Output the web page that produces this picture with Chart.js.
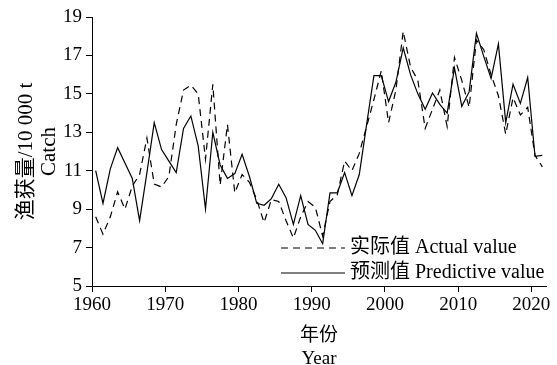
<!DOCTYPE html>
<html>
<head>
<meta charset="utf-8">
<script src="https://cdn.jsdelivr.net/npm/chart.js@4/dist/chart.umd.min.js"></script>
<style>
  html, body { margin: 0; padding: 0; background: #fff; }
  #wrap { width: 557px; height: 365px; position: relative; }
</style>
</head>
<body>
<div id="wrap"><canvas id="catchChart"></canvas></div>
<script>
// annual series, 1960-2021 (10 000 t)
const years = [];
for (let y = 1960; y <= 2021; y++) years.push(y);

const actual = [
  8.6, 7.7, 8.6, 9.9, 9.0, 10.2, 10.8, 12.7, 10.3, 10.15,
  10.7, 13.4, 15.2, 15.45, 15.0, 11.6, 15.5, 10.25, 13.4, 9.85,
  10.8, 10.4, 9.5, 8.3, 9.5, 9.4, 8.4, 7.5, 8.6, 9.4,
  9.1, 7.6, 9.4, 9.75, 11.5, 11.0, 11.9, 13.3, 14.7, 16.2,
  13.5, 15.2, 18.25, 16.4, 15.7, 13.2, 14.2, 15.2, 13.3, 16.9,
  15.7, 14.3, 17.8, 17.3, 16.0, 14.9, 12.9, 14.8, 13.9, 14.3,
  11.8, 11.2
];

const predicted = [
  11.0, 9.3, 11.1, 12.2, 11.4, 10.6, 8.4, 10.9, 13.5, 12.1,
  11.5, 10.9, 13.2, 13.85, 12.3, 9.0, 13.0, 11.3, 10.6, 10.85,
  11.85, 10.7, 9.3, 9.2, 9.55, 10.3, 9.6, 8.2, 9.7, 8.2,
  7.9, 7.2, 9.85, 9.85, 10.9, 9.7, 10.8, 13.4, 15.95, 15.95,
  14.6, 15.6, 17.4, 16.0, 15.0, 14.2, 15.05, 14.45, 14.0, 16.35,
  14.35, 15.1, 18.15, 16.95, 15.8, 17.6, 13.5, 15.5, 14.5, 15.85,
  11.75, 11.8
];

const seriesLabels = ['实际值 Actual value', '预测值 Predictive value'];
const yTitle = ['渔获量/10 000 t', 'Catch'];
const xTitle = ['年份', 'Year'];

const SERIF = '"Liberation Serif", "Times New Roman", "Noto Sans CJK SC", serif';

// values are annual totals, plotted at mid-year
const toPoints = vals => vals.map((v, i) => ({ x: years[i] + 0.5, y: v }));

const cornerLegend = {
  id: 'cornerLegend',
  afterDraw(chart) {
    const { ctx, chartArea } = chart;
    ctx.save();
    ctx.font = '20px ' + SERIF;
    ctx.textBaseline = 'middle';
    ctx.fillStyle = '#000';
    chart.data.datasets.forEach((ds, i) => {
      const y = chartArea.bottom - 38 + i * 25;
      const x0 = chartArea.right - 265;
      ctx.beginPath();
      ctx.setLineDash(ds.borderDash || []);
      ctx.lineWidth = ds.borderWidth;
      ctx.strokeStyle = ds.borderColor;
      ctx.moveTo(x0, y);
      ctx.lineTo(x0 + 64, y);
      ctx.stroke();
      ctx.setLineDash([]);
      ctx.fillText(ds.label, x0 + 69, y);
    });
    ctx.restore();
  }
};

new Chart(document.getElementById('catchChart'), {
  type: 'line',
  data: {
    datasets: [
      {
        label: seriesLabels[0],
        data: toPoints(actual),
        borderColor: '#000',
        borderWidth: 1.2,
        borderDash: [7, 5],
        pointRadius: 0,
        fill: false,
      },
      {
        label: seriesLabels[1],
        data: toPoints(predicted),
        borderColor: '#000',
        borderWidth: 1.2,
        pointRadius: 0,
        fill: false,
      },
    ],
  },
  options: {
    responsive: true,
    maintainAspectRatio: false,
    animation: false,
    devicePixelRatio: 1,
    layout: { padding: { top: 17, right: 11, left: 0, bottom: 0 } },
    plugins: {
      legend: { display: false },
      tooltip: { enabled: false },
    },
    scales: {
      x: {
        type: 'linear',
        min: 1960,
        max: 2022,
        afterFit: scale => { scale.height = 79; },
        border: { color: '#000', width: 1 },
        grid: { drawOnChartArea: false, drawTicks: true, tickLength: 6, color: '#000' },
        ticks: {
          stepSize: 10,
          includeBounds: false,
          color: '#000',
          padding: 2,
          maxRotation: 0,
          font: { family: SERIF, size: 19 },
          callback: v => String(v),
        },
        title: {
          display: true,
          text: xTitle,
          color: '#000',
          font: { family: SERIF, size: 19, lineHeight: 1.22 },
          padding: { top: 0, bottom: -6 },
        },
      },
      y: {
        min: 5,
        max: 19,
        afterFit: scale => { scale.width = 92; },
        border: { color: '#000', width: 1 },
        grid: { drawOnChartArea: false, drawTicks: true, tickLength: 6, color: '#000' },
        ticks: {
          stepSize: 2,
          color: '#000',
          padding: 4,
          font: { family: SERIF, size: 19 },
          callback: v => String(v),
        },
        title: {
          display: true,
          text: yTitle,
          color: '#000',
          font: { family: SERIF, size: 21, lineHeight: 1.1 },
          padding: { top: 15, bottom: 0 },
        },
      },
    },
  },
  plugins: [cornerLegend],
});
</script>
</body>
</html>
